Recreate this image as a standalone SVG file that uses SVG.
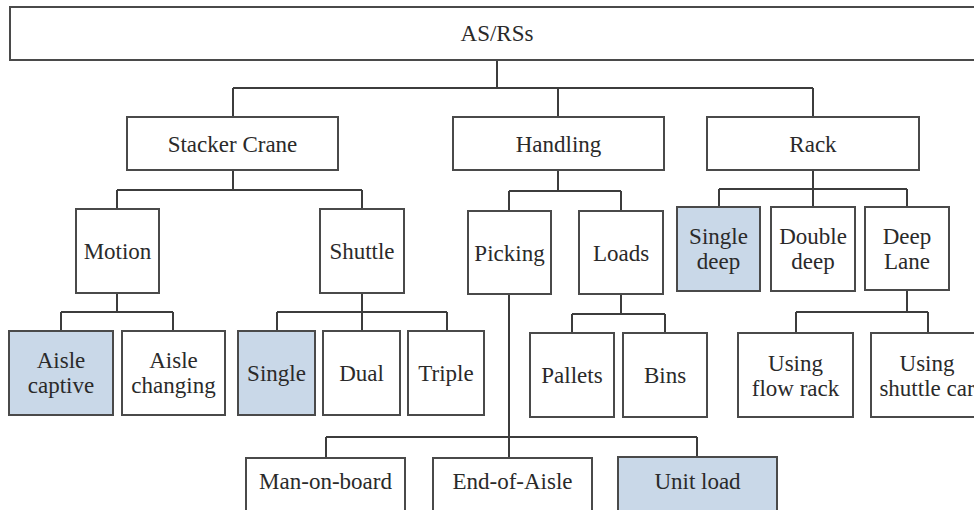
<svg xmlns="http://www.w3.org/2000/svg" width="974" height="510" viewBox="0 0 974 510">
  <style>
    .box { fill: #ffffff; stroke: #4a4a4a; stroke-width: 2; }
    .hl { fill: #c9d8e8; }
    .lbl { font-family: "Liberation Serif", "Times New Roman", serif; font-size: 23px; fill: #2a2a2a; text-anchor: middle; }
    .wire { fill: none; stroke: #3c3c3c; stroke-width: 2; }
  </style>
  <rect x="0" y="0" width="974" height="510" fill="#ffffff"/>

  <!-- connectors -->
  <g id="connectors">
    <!-- root to level 1 -->
    <path class="wire" d="M497 60 V88 M233 88 H813 M233 88 V117 M558 88 V117 M813 88 V117"/>
    <!-- Stacker Crane -->
    <path class="wire" d="M233 170 V190 M117 190 H362 M117 190 V209 M362 190 V209"/>
    <!-- Handling -->
    <path class="wire" d="M558 170 V191 M509 191 H621 M509 191 V211 M621 191 V211"/>
    <!-- Rack -->
    <path class="wire" d="M813 170 V189 M719 189 H907 M719 189 V207 M813 189 V207 M907 189 V207"/>
    <!-- Motion -->
    <path class="wire" d="M117 293 V312 M61 312 H173 M61 312 V331 M173 312 V331"/>
    <!-- Shuttle -->
    <path class="wire" d="M362 293 V312 M277 312 H447 M277 312 V331 M362 312 V331 M447 312 V331"/>
    <!-- Loads -->
    <path class="wire" d="M621 294 V314 M572 314 H665 M572 314 V333 M665 314 V333"/>
    <!-- Deep Lane -->
    <path class="wire" d="M907 290 V312 M796 312 H928 M796 312 V333 M928 312 V333"/>
    <!-- Picking -->
    <path class="wire" d="M509 294 V458 M326 437 H697 M326 437 V458 M697 437 V458"/>
  </g>

  <!-- level 0 -->
  <g id="asrs">
    <rect class="box" x="10" y="7" width="980" height="53"/>
    <text class="lbl" x="497" y="41">AS/RSs</text>
  </g>

  <!-- level 1 -->
  <g id="stacker-crane">
    <rect class="box" x="127" y="117" width="211" height="53"/>
    <text class="lbl" x="232.5" y="151.5">Stacker Crane</text>
  </g>
  <g id="handling">
    <rect class="box" x="453" y="117" width="211" height="53"/>
    <text class="lbl" x="558.5" y="151.5">Handling</text>
  </g>
  <g id="rack">
    <rect class="box" x="707" y="117" width="212" height="53"/>
    <text class="lbl" x="813" y="151.5">Rack</text>
  </g>

  <!-- level 2 -->
  <g id="motion">
    <rect class="box" x="76" y="209" width="83" height="84"/>
    <text class="lbl" x="117.5" y="259">Motion</text>
  </g>
  <g id="shuttle">
    <rect class="box" x="320" y="209" width="84" height="84"/>
    <text class="lbl" x="362" y="259">Shuttle</text>
  </g>
  <g id="picking">
    <rect class="box" x="468" y="211" width="83" height="83"/>
    <text class="lbl" x="509.5" y="260.5">Picking</text>
  </g>
  <g id="loads">
    <rect class="box" x="579" y="211" width="84" height="83"/>
    <text class="lbl" x="621" y="260.5">Loads</text>
  </g>
  <g id="single-deep">
    <rect class="box hl" x="677" y="207" width="83" height="84"/>
    <text class="lbl" x="718.5" y="244">Single</text>
    <text class="lbl" x="718.5" y="269">deep</text>
  </g>
  <g id="double-deep">
    <rect class="box" x="771" y="207" width="84" height="84"/>
    <text class="lbl" x="813" y="244">Double</text>
    <text class="lbl" x="813" y="269">deep</text>
  </g>
  <g id="deep-lane">
    <rect class="box" x="865" y="207" width="84" height="83"/>
    <text class="lbl" x="907" y="243.5">Deep</text>
    <text class="lbl" x="907" y="268.5">Lane</text>
  </g>

  <!-- level 3 -->
  <g id="aisle-captive">
    <rect class="box hl" x="9" y="331" width="104" height="84"/>
    <text class="lbl" x="61" y="368">Aisle</text>
    <text class="lbl" x="61" y="393">captive</text>
  </g>
  <g id="aisle-changing">
    <rect class="box" x="122" y="331" width="103" height="84"/>
    <text class="lbl" x="173.5" y="368">Aisle</text>
    <text class="lbl" x="173.5" y="393">changing</text>
  </g>
  <g id="single">
    <rect class="box hl" x="238" y="331" width="77" height="84"/>
    <text class="lbl" x="276.5" y="381">Single</text>
  </g>
  <g id="dual">
    <rect class="box" x="323" y="331" width="77" height="84"/>
    <text class="lbl" x="361.5" y="381">Dual</text>
  </g>
  <g id="triple">
    <rect class="box" x="408" y="331" width="76" height="84"/>
    <text class="lbl" x="446" y="381">Triple</text>
  </g>
  <g id="pallets">
    <rect class="box" x="530" y="333" width="84" height="84"/>
    <text class="lbl" x="572" y="383">Pallets</text>
  </g>
  <g id="bins">
    <rect class="box" x="623" y="333" width="84" height="84"/>
    <text class="lbl" x="665" y="383">Bins</text>
  </g>
  <g id="flow-rack">
    <rect class="box" x="738" y="333" width="115" height="84"/>
    <text class="lbl" x="795.5" y="371">Using</text>
    <text class="lbl" x="795.5" y="396">flow rack</text>
  </g>
  <g id="shuttle-car">
    <rect class="box" x="871" y="333" width="112" height="84"/>
    <text class="lbl" x="927" y="371">Using</text>
    <text class="lbl" x="927" y="396">shuttle car</text>
  </g>

  <!-- level 4 -->
  <g id="man-on-board">
    <rect class="box" x="246" y="458" width="159" height="60"/>
    <text class="lbl" x="325.5" y="489">Man-on-board</text>
  </g>
  <g id="end-of-aisle">
    <rect class="box" x="433" y="458" width="159" height="60"/>
    <text class="lbl" x="512.5" y="489">End-of-Aisle</text>
  </g>
  <g id="unit-load">
    <rect class="box hl" x="618" y="457" width="159" height="61"/>
    <text class="lbl" x="697.5" y="489">Unit load</text>
  </g>
</svg>
